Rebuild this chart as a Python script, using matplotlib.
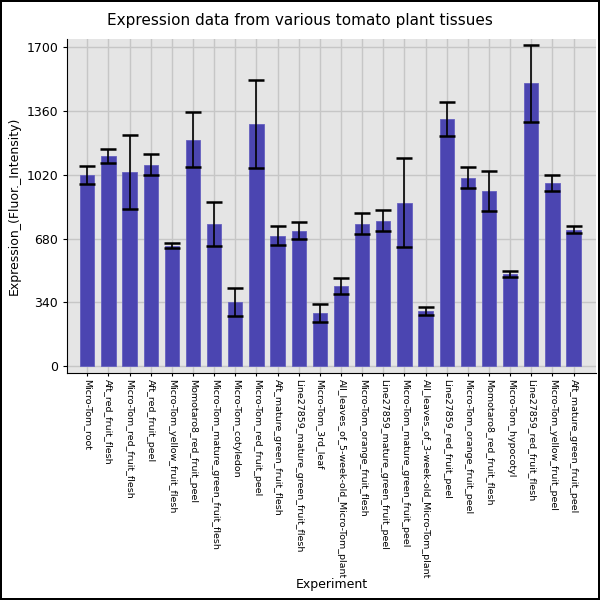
import matplotlib
matplotlib.use("Agg")
import matplotlib.pyplot as plt

# Tissues in plotted order, mean expression and error half-width
tissues = [
    "Micro-Tom_root",
    "Aft_red_fruit_flesh",
    "Micro-Tom_red_fruit_flesh",
    "Aft_red_fruit_peel",
    "Micro-Tom_yellow_fruit_flesh",
    "Momotaro8_red_fruit_peel",
    "Micro-Tom_mature_green_fruit_flesh",
    "Micro-Tom_cotyledon",
    "Micro-Tom_red_fruit_peel",
    "Aft_mature_green_fruit_flesh",
    "Line27859_mature_green_fruit_flesh",
    "Micro-Tom_3rd_leaf",
    "All_leaves_of_5-week-old_Micro-Tom_plant",
    "Micro-Tom_orange_fruit_flesh",
    "Line27859_mature_green_fruit_peel",
    "Micro-Tom_mature_green_fruit_peel",
    "All_leaves_of_3-week-old_Micro-Tom_plant",
    "Line27859_red_fruit_peel",
    "Micro-Tom_orange_fruit_peel",
    "Momotaro8_red_fruit_flesh",
    "Micro-Tom_hypocotyl",
    "Line27859_red_fruit_flesh",
    "Micro-Tom_yellow_fruit_peel",
    "Aft_mature_green_fruit_peel",
]
expression = [1018, 1120, 1036, 1073, 642, 1206, 760, 343, 1290, 695, 721,
              284, 428, 760, 775, 872, 295, 1318, 1004, 934, 492, 1506, 977, 728]
error = [48, 35, 198, 57, 12, 146, 117, 75, 232, 50, 45,
         46, 43, 57, 55, 239, 22, 89, 56, 108, 14, 206, 42, 20]
yticks = [0, 340, 680, 1020, 1360, 1700]

fig = plt.figure(figsize=(6, 6), dpi=100)
fig.patch.set_edgecolor("black")
fig.patch.set_linewidth(1.5)
ax = fig.add_axes([0.112, 0.378, 0.881, 0.557])
ax.set_facecolor("#e5e5e5")

x = list(range(len(tissues)))
ax.bar(x, expression, width=0.68, color="#4b45b1", edgecolor="#6560c0",
       linewidth=0.6, zorder=2)
ax.errorbar(x, expression, yerr=error, fmt="none", ecolor="black",
            elinewidth=1.2, capsize=6, capthick=1.8, zorder=3)

ax.set_xlim(-0.95, 24.05)
ax.set_ylim(-37, 1743)
ax.set_yticks(yticks)
ax.set_xticks(x)
ax.set_xticklabels(tissues, rotation=270, fontsize=6.8, ha="center", va="top")
ax.tick_params(axis="y", labelsize=9, length=3)
ax.tick_params(axis="x", length=2, pad=2)
ax.grid(True, color="#c6c6c6", linewidth=1, zorder=0)
ax.set_axisbelow(True)

for side in ("top", "right"):
    ax.spines[side].set_visible(False)
ax.spines["left"].set_color("black")
ax.spines["bottom"].set_color("black")

ax.set_ylabel("Expression_(Fluor._Intensity)", fontsize=9)
ax.set_xlabel("Experiment", fontsize=9, labelpad=0)
fig.text(0.5, 0.965, "Expression data from various tomato plant tissues",
         ha="center", va="center", fontsize=11)

fig.savefig("out.png", dpi=100)
